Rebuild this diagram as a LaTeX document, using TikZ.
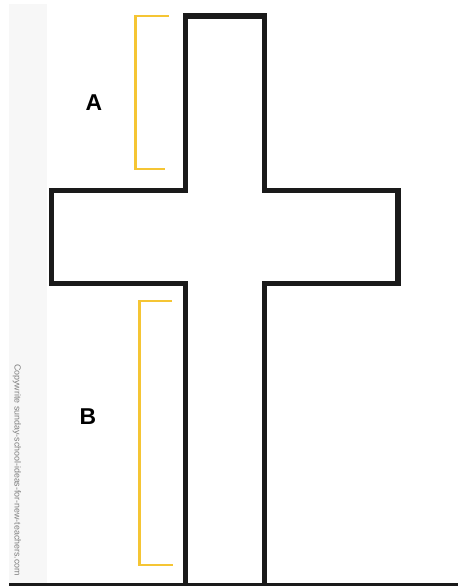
\documentclass[tikz,border=0pt]{standalone}
\usepackage{fontspec}
\setmainfont{Liberation Sans}
\usepackage{xcolor}
\usepackage{tikz}
\usetikzlibrary{positioning}

\definecolor{bracketyellow}{HTML}{F5C534}
\definecolor{crossblack}{HTML}{1A1A1A}
\definecolor{stripgray}{HTML}{F7F7F7}

\begin{document}
\begin{tikzpicture}[x=1bp, y=-1bp,
  outline/.style={draw=crossblack, line width=5.5bp, line join=miter},
  bracket/.style={draw=bracketyellow, line width=2.4bp},
  lbl/.style={font=\fontsize{23}{26}\selectfont\bfseries, inner sep=0pt},
  note/.style={font=\fontsize{8.9}{10}\selectfont, text=black!50, inner sep=0pt, rotate=-90, anchor=west},
]
\useasboundingbox (0,0) rectangle (458,586);
\fill[stripgray] (9,4) rectangle (47,583);

% Cross
\draw[outline] (185.5,584) -- (185.5,283.5) -- (51.5,283.5) -- (51.5,190.5)
  -- (185.5,190.5) -- (185.5,16) -- (264.5,16) -- (264.5,190.5)
  -- (398,190.5) -- (398,283.5) -- (264.5,283.5) -- (264.5,584);

% Brackets
\draw[bracket] (169,16) -- (135.5,16) -- (135.5,169) -- (165,169);
\draw[bracket] (172,301) -- (139.5,301) -- (139.5,565) -- (173,565);

% Labels
\node[lbl] (A) at (94,102.5) {A};
\node[lbl] (B) at (88,417) {B};
\node[note] (copy) at (17,364) {Copywrite sunday-school-ideas-for-new-teachers.com};

% Baseline
\draw[crossblack, line width=2.2bp] (9,584.5) -- (458,584.5);
\end{tikzpicture}
\end{document}
